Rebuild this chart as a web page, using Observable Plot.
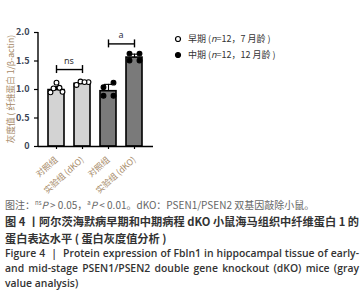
<!DOCTYPE html>
<html><head><meta charset="utf-8">
<script src="https://cdn.jsdelivr.net/npm/d3@7"></script>
<script src="https://cdn.jsdelivr.net/npm/@observablehq/plot@0.6"></script>
<style>
body{margin:0;background:#fff;}
#wrap{position:relative;width:364px;height:300px;overflow:hidden;font-family:"Noto Sans CJK SC","Noto Sans",sans-serif;}
#legend{position:absolute;left:174px;top:31px;font-size:9px;color:#333;line-height:16px;}
#legend .it{display:flex;align-items:center;white-space:nowrap;}
#legend svg{margin-right:6px;}
#cap{position:absolute;left:5px;top:194px;width:354px;color:#333;}
.l1{font-size:10px;color:#666;line-height:17px;white-space:nowrap;}
.zh{font-size:11.2px;font-weight:bold;line-height:16.5px;}
.en{font-family:"Open Sans",sans-serif;font-size:10.4px;font-weight:600;line-height:15px;}
.j{text-align:justify;text-align-last:justify;white-space:nowrap;}
sup{font-size:6px;}
</style></head>
<body><div id="wrap"><div id="chart"></div>
<div id="legend"></div>
<div id="cap">
<div class="l1">图注：<sup>ns</sup><i>P</i> &gt; 0.05，<sup>a</sup><i>P</i> &lt; 0.01。dKO：PSEN1/PSEN2 双基因敲除小鼠。</div>
<div class="zh j">图 4 丨阿尔茨海默病早期和中期病程 dKO 小鼠海马组织中纤维蛋白 1 的</div>
<div class="zh">蛋白表达水平 ( 蛋白灰度值分析 )</div>
<div class="en j">Figure 4 &nbsp;| &nbsp;Protein expression of Fbln1 in hippocampal tissue of early-</div>
<div class="en j">and mid-stage PSEN1/PSEN2 double gene knockout (dKO) mice (gray</div>
<div class="en">value analysis)</div>
</div></div>
<script>
const categories = ["e-ctl","e-dko","m-ctl","m-dko"];
const tickLabels = ["对照组","实验组 (dKO)","对照组","实验组 (dKO)"];
const stages = ["早期","早期","中期","中期"];
const yTicks = [0, 0.5, 1, 1.5, 2];
const yTickLabels = ["0","0.5","1.0","1.5","2.0"];
const means = [0.99, 1.10, 0.97, 1.56];
const sds = [0.06, 0.03, 0.12, 0.06];
const pointsEarlyCtl = [0.95, 1.02, 1.12, 1.03, 0.96];
const pointsEarlyDko = [1.08, 1.14, 1.13, 1.13];
const pointsMidCtl = [1.04, 0.89, 1.12, 0.89];
const pointsMidDko = [1.63, 1.51, 1.63, 1.51];
const brackets = [{a:"e-ctl", b:"e-dko", y:1.35, label:"ns"},{a:"m-ctl", b:"m-dko", y:1.80, label:"a"}];
const legendLabels = ["早期 (<i>n</i>=12，7 月龄 )","中期 (<i>n</i>=12，12 月龄 )"];

const offsetPatterns = {5:[-6,-3,0,3,6], 4:[-6,-2,2,6]};
const midPattern = [-5,-5,5,5];
const groups = [pointsEarlyCtl, pointsEarlyDko, pointsMidCtl, pointsMidDko];
const pts = [];
groups.forEach((g, gi) => g.forEach((v, i) => {
  const pat = gi >= 2 ? midPattern : offsetPatterns[g.length];
  pts.push({cat: categories[gi], v, stage: stages[gi], off: pat[i]});
}));
const bars = categories.map((c,i)=>({cat:c, m:means[i], top:means[i]+sds[i], stage:stages[i]}));
const offs = [...new Set(pts.map(d=>d.off))];

const marginLeft = 38;
const labelColor = "#a58866";
const tickColor = "#3c4656";

const dotMarks = offs.map(o => Plot.dot(pts.filter(d=>d.off===o), {
  x:"cat", y:"v", dx:o, r:2.4, strokeWidth:1.1, stroke:"#000",
  fill: d => d.stage === "早期" ? "#fff" : "#000"
}));

const plot = Plot.plot({
  width: 364, height: 195,
  marginLeft, marginRight: 211, marginTop: 32, marginBottom: 49,
  style: {fontFamily: '"Noto Sans CJK SC", sans-serif', background:"#fff"},
  x: {type:"band", domain: categories, paddingInner:0.37, paddingOuter:0.315, label:null, tickFormat: d => tickLabels[categories.indexOf(d)], tickRotate:-42, tickSize:3},
  y: {domain:[0,2], ticks: yTicks, tickFormat: d => yTickLabels[yTicks.indexOf(d)], tickSize:4, label:null},
  marks: [
    Plot.barY(bars, {x:"cat", y:"m", fill: d => d.stage==="早期" ? "#d3d3d3" : "#7a7a7a", stroke:"#000", strokeWidth:1.6}),
    Plot.ruleX(bars, {x:"cat", y1:"m", y2:"top", stroke:"#000", strokeWidth:1.1}),
    Plot.tickY(bars, {x:"cat", y:"top", stroke:"#000", strokeWidth:1.1, inset:4}),
    ...dotMarks,
    Plot.link(brackets, {x1:"a", x2:"b", y1:"y", y2:"y", stroke:"#000", strokeWidth:1.4}),
    Plot.ruleX(brackets, {x:"a", y1: d=>d.y-0.07, y2: d=>d.y+0.07, stroke:"#000", strokeWidth:1.4}),
    Plot.ruleX(brackets, {x:"b", y1: d=>d.y-0.07, y2: d=>d.y+0.07, stroke:"#000", strokeWidth:1.4}),
    Plot.ruleY([0], {stroke:"#000", strokeWidth:1.4})
  ]
});
document.getElementById("chart").appendChild(plot);

// style axes
const svg = d3.select(plot);
svg.selectAll('g[aria-label="y-axis tick label"]')
  .attr("fill", tickColor).attr("font-size", 9).attr("font-weight", "bold");
svg.selectAll('g[aria-label="x-axis tick label"]')
  .attr("fill", labelColor).attr("font-size", 8.5);
svg.selectAll('g[aria-label="y-axis tick"], g[aria-label="x-axis tick"]')
  .attr("stroke", "#000").attr("stroke-width", 1.2);

// y axis line along the frame, using the plot's y scale
const ys = plot.scale("y");
svg.append("line")
  .attr("x1", marginLeft).attr("x2", marginLeft)
  .attr("y1", ys.apply(2)).attr("y2", ys.apply(0))
  .attr("stroke", "#000").attr("stroke-width", 1.4);

// centered bracket labels
const xs = plot.scale("x");
brackets.forEach(b => {
  const cx = (xs.apply(b.a) + xs.apply(b.b)) / 2 + xs.bandwidth / 2;
  svg.append("text")
    .attr("x", cx).attr("y", ys.apply(b.y) - 5)
    .attr("text-anchor","middle").attr("font-size", 9).attr("fill", b.label==="a" ? "#334" : "#333")
    .style("font-family", '"Noto Sans", sans-serif')
    .text(b.label);
});

// y label
svg.append("text")
  .attr("transform", `translate(12,${(ys.apply(0)+ys.apply(2))/2}) rotate(-90)`)
  .attr("text-anchor","middle").attr("dominant-baseline","middle")
  .attr("font-size", 8.6).attr("fill", labelColor)
  .text("灰度值 ( 纤维蛋白 1/β-actin)");

// legend
const lg = document.getElementById("legend");
legendLabels.forEach((t,i) => {
  const fill = i===0 ? "#fff" : "#000";
  lg.insertAdjacentHTML("beforeend",
    `<div class="it"><svg width="8" height="8"><circle cx="4" cy="4" r="2.5" fill="${fill}" stroke="#000" stroke-width="1.2"/></svg><span>${t}</span></div>`);
});
</script></body></html>
